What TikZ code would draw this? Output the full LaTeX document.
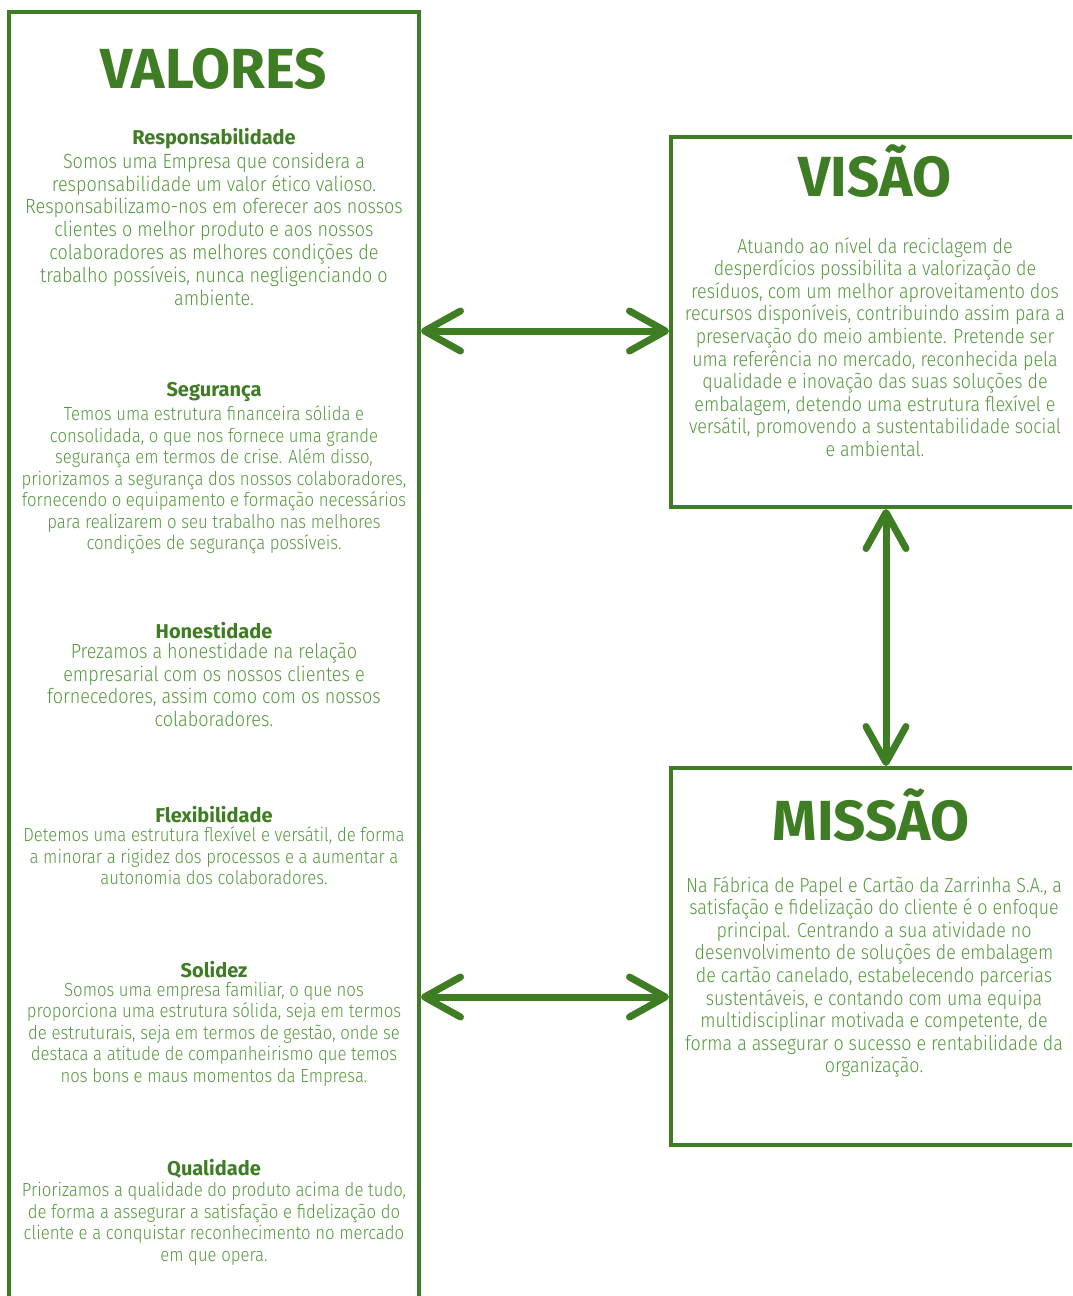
\documentclass[tikz,border=0pt]{standalone}
\usepackage{fontspec}
\setmainfont{Fira Sans}[UprightFont={* Light}, BoldFont={* Bold},
  UprightFeatures={FakeStretch=0.88}]
\usepackage{xcolor}
\usepackage{tikz}
\usetikzlibrary{arrows.meta,positioning}

\definecolor{darkgreen}{RGB}{62,125,35}
\definecolor{lightgreen}{RGB}{86,152,62}

\begin{document}
\begin{tikzpicture}[x=1pt,y=-1pt,
  box/.style={draw=darkgreen,line width=4pt,inner sep=0pt,anchor=north west},
  bigtitle/.style={text=darkgreen,anchor=base,inner sep=0pt,font=\fontsize{56.5}{60}\selectfont\bfseries},
  head/.style={text=darkgreen,anchor=base,inner sep=0pt,font=\fontsize{20}{22}\selectfont\bfseries},
  bodybig/.style={text=lightgreen,align=center,inner sep=0pt,below=4pt,font=\fontsize{20.5}{22.8}\selectfont},
  bodysmall/.style={text=lightgreen,align=center,inner sep=0pt,below=4pt,font=\fontsize{19}{21.5}\selectfont},
  bodybox/.style={text=lightgreen,align=center,inner sep=0pt,font=\fontsize{20.3}{22.6}\selectfont},
  arr/.style={darkgreen,line width=7pt,line cap=round,
    {Straight Barb[length=36pt,width=40pt,line cap=round,line join=round]}-{Straight Barb[length=36pt,width=40pt,line cap=round,line join=round]}}]
\useasboundingbox (0,0) rectangle (1072,1296);
\clip (0,0) rectangle (1072,1296);

% Boxes
\node[box,minimum width=410.5pt,minimum height=1320pt] (valbox) at (6.5,10) {};
\node[box,minimum width=440pt,minimum height=370pt] (visbox) at (669,135) {};
\node[box,minimum width=440pt,minimum height=377pt] (misbox) at (669,766) {};

% Titles
\node[bigtitle] (valtitle) at (214,88) {VALORES};
\node[bigtitle] (vistitle) at (875,196) {VISÃO};
\node[bigtitle] (mistitle) at (871,840) {MISSÃO};

% Values
\node[head] (resp) at (214,144) {Responsabilidade};
\node[bodybig,below=4pt of resp] (resptxt) {Somos uma Empresa que considera a\\
responsabilidade um valor ético valioso.\\
Responsabilizamo-nos em oferecer aos nossos\\
clientes o melhor produto e aos nossos\\
colaboradores as melhores condições de\\
trabalho possíveis, nunca negligenciando o\\
ambiente.};

\node[head] (seg) at (214,396) {Segurança};
\node[bodysmall,below=4pt of seg] (segtxt) {Temos uma estrutura financeira sólida e\\
consolidada, o que nos fornece uma grande\\
segurança em termos de crise. Além disso,\\
priorizamos a segurança dos nossos colaboradores,\\
fornecendo o equipamento e formação necessários\\
para realizarem o seu trabalho nas melhores\\
condições de segurança possíveis.};

\node[head] (hon) at (214,638) {Honestidade};
\node[bodybig,below=4pt of hon] (hontxt) {Prezamos a honestidade na relação\\
empresarial com os nossos clientes e\\
fornecedores, assim como com os nossos\\
colaboradores.};

\node[head] (flex) at (214,822) {Flexibilidade};
\node[bodysmall,below=4pt of flex] (flextxt) {Detemos uma estrutura flexível e versátil, de forma\\
a minorar a rigidez dos processos e a aumentar a\\
autonomia dos colaboradores.};

\node[head] (sol) at (214,977) {Solidez};
\node[bodysmall,below=4pt of sol] (soltxt) {Somos uma empresa familiar, o que nos\\
proporciona uma estrutura sólida, seja em termos\\
de estruturais, seja em termos de gestão, onde se\\
destaca a atitude de companheirismo que temos\\
nos bons e maus momentos da Empresa.};

\node[head] (qual) at (214,1175) {Qualidade};
\node[bodysmall,below=4pt of qual] (qualtxt) {Priorizamos a qualidade do produto acima de tudo,\\
de forma a assegurar a satisfação e fidelização do\\
cliente e a conquistar reconhecimento no mercado\\
em que opera.};

% Vision and mission texts
\node[bodybox,anchor=north] (vistxt) at (875,237) {Atuando ao nível da reciclagem de\\
desperdícios possibilita a valorização de\\
resíduos, com um melhor aproveitamento dos\\
recursos disponíveis, contribuindo assim para a\\
preservação do meio ambiente. Pretende ser\\
uma referência no mercado, reconhecida pela\\
qualidade e inovação das suas soluções de\\
embalagem, detendo uma estrutura flexível e\\
versátil, promovendo a sustentabilidade social\\
e ambiental.};

\node[bodybox,anchor=north] (mistxt) at (874,876) {Na Fábrica de Papel e Cartão da Zarrinha S.A., a\\
satisfação e fidelização do cliente é o enfoque\\
principal. Centrando a sua atividade no\\
desenvolvimento de soluções de embalagem\\
de cartão canelado, estabelecendo parcerias\\
sustentáveis, e contando com uma equipa\\
multidisciplinar motivada e competente, de\\
forma a assegurar o sucesso e rentabilidade da\\
organização.};

% Arrows
\coordinate (top) at (545,331);
\coordinate (bot) at (545,997);
\coordinate (mid) at (886,640);
\draw[arr] (valbox.east |- top) -- (visbox.west |- top);
\draw[arr] (valbox.east |- bot) -- (misbox.west |- bot);
\draw[arr] (visbox.south -| mid) -- (misbox.north -| mid);

\end{tikzpicture}
\end{document}
